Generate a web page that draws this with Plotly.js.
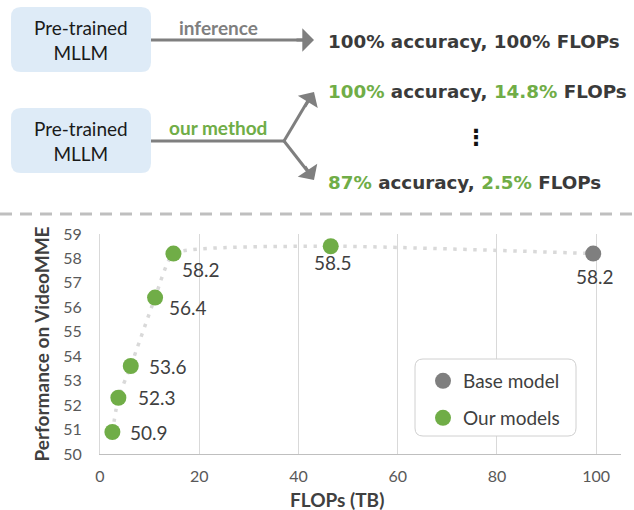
<!DOCTYPE html>
<html>
<head>
<meta charset="utf-8">
<script src="https://cdn.plot.ly/plotly-3.0.1.min.js"></script>
<style>html,body{margin:0;padding:0;background:#fff;}#chart{width:634px;height:510px;}</style>
</head>
<body>
<div id="chart"></div>
<script>
// ---- data ----
const flopsOurs = [2.5, 3.7, 6.2, 11.1, 14.8, 46.5];
const scoreOurs = [50.9, 52.3, 53.6, 56.4, 58.2, 58.5];
const flopsBase = [99.4];
const scoreBase = [58.2];
const seriesNames = ['Base model', 'Our models'];
const xTickVals = [0, 20, 40, 60, 80, 100];
const yTickVals = [50, 51, 52, 53, 54, 55, 56, 57, 58, 59];
const boxLabel = 'Pre-trained<br>MLLM';
const arrowLabels = ['inference', 'our method'];
const resultLines = [
  '100% accuracy, 100% FLOPs',
  '<span style="color:#70ad47">100%</span> accuracy, <span style="color:#70ad47">14.8%</span> FLOPs',
  '⋮',
  '<span style="color:#70ad47">87%</span> accuracy, <span style="color:#70ad47">2.5%</span> FLOPs'
];

// ---- styles / geometry ----
const GREEN = '#70ad47', GREYM = '#7f7f7f', TXT = '#404040', ARROW = '#7f7f7f';
const W = 634, H = 510, L = 100, R = 13, T = 234, B = 56;
const PW = W - L - R, PH = H - T - B;
const px = x => (x - L) / PW;
const py = y => (H - B - y) / PH;

// label offsets (pixels) for data labels
const oursLabelOffsets = [[16, 0, 'left'], [18, 0, 'left'], [16, 0, 'left'], [12, -10, 'left'], [7, -16, 'left'], [2, -16, 'center']];
const baseLabelOffsets = [[2, -23, 'center']];

function rrect(x0, y0, x1, y1, r) {
  const P = (x, y) => px(x) + ',' + py(y);
  return 'M' + P(x0 + r, y0) + ' L' + P(x1 - r, y0) + ' Q' + P(x1, y0) + ' ' + P(x1, y0 + r) +
    ' L' + P(x1, y1 - r) + ' Q' + P(x1, y1) + ' ' + P(x1 - r, y1) +
    ' L' + P(x0 + r, y1) + ' Q' + P(x0, y1) + ' ' + P(x0, y1 - r) +
    ' L' + P(x0, y0 + r) + ' Q' + P(x0, y0) + ' ' + P(x0 + r, y0) + ' Z';
}

const shapes = [
  // boxes
  {type: 'path', xref: 'paper', yref: 'paper', path: rrect(11, 7, 151, 72, 10), fillcolor: '#deebf7', line: {width: 0}, layer: 'above'},
  {type: 'path', xref: 'paper', yref: 'paper', path: rrect(11, 108, 151, 173, 10), fillcolor: '#deebf7', line: {width: 0}, layer: 'above'},
  // arrow shafts
  {type: 'line', xref: 'paper', yref: 'paper', x0: px(151), y0: py(40), x1: px(305), y1: py(40), line: {color: ARROW, width: 3}},
  {type: 'line', xref: 'paper', yref: 'paper', x0: px(151), y0: py(141), x1: px(285), y1: py(141), line: {color: ARROW, width: 3}},
  {type: 'line', xref: 'paper', yref: 'paper', x0: px(284), y0: py(141), x1: px(309), y1: py(99), line: {color: ARROW, width: 3}},
  {type: 'line', xref: 'paper', yref: 'paper', x0: px(284), y0: py(141), x1: px(309), y1: py(173), line: {color: ARROW, width: 3}},
  // separator
  {type: 'line', xref: 'paper', yref: 'paper', x0: px(0), y0: py(214), x1: px(634), y1: py(214), line: {color: '#bfbfbf', width: 3, dash: '12px,8px'}},
  // legend box
  {type: 'path', xref: 'paper', yref: 'paper', path: rrect(415, 359, 576, 436, 8), fillcolor: '#ffffff', line: {color: '#d0d0d0', width: 1}, layer: 'above'}
];

function arrowHead(hx, hy, tx, ty) {
  return {xref: 'paper', yref: 'paper', x: px(hx), y: py(hy), ax: tx - hx, ay: ty - hy, axref: 'pixel', ayref: 'pixel',
    text: '', showarrow: true, arrowhead: 1, arrowsize: 1.3, arrowwidth: 3, arrowcolor: ARROW, standoff: 0, startstandoff: 0};
}

const annotations = [
  {xref: 'paper', yref: 'paper', x: px(81), y: py(40), text: boxLabel, showarrow: false, font: {family: 'Lato', size: 19, color: '#1a1a1a'}, xanchor: 'center', yanchor: 'middle'},
  {xref: 'paper', yref: 'paper', x: px(81), y: py(141), text: boxLabel, showarrow: false, font: {family: 'Lato', size: 19, color: '#1a1a1a'}, xanchor: 'center', yanchor: 'middle'},
  {xref: 'paper', yref: 'paper', x: px(218), y: py(27), text: '<b>' + arrowLabels[0] + '</b>', showarrow: false, font: {family: 'Lato', size: 19, color: ARROW}, xanchor: 'center', yanchor: 'middle'},
  {xref: 'paper', yref: 'paper', x: px(218), y: py(127), text: '<b>' + arrowLabels[1] + '</b>', showarrow: false, font: {family: 'Lato', size: 19, color: GREEN}, xanchor: 'center', yanchor: 'middle'},
  arrowHead(314, 40, 295, 40),
  arrowHead(314, 92, 304, 108),
  arrowHead(314, 180, 304, 165),
  {xref: 'paper', yref: 'paper', x: px(326), y: py(41), text: '<b>' + resultLines[0] + '</b>', showarrow: false, font: {family: 'DejaVu Sans', size: 18.3, color: '#3a3a3a'}, xanchor: 'left', yanchor: 'middle'},
  {xref: 'paper', yref: 'paper', x: px(326), y: py(91), text: '<b>' + resultLines[1] + '</b>', showarrow: false, font: {family: 'DejaVu Sans', size: 18.3, color: '#3a3a3a'}, xanchor: 'left', yanchor: 'middle'},
  {xref: 'paper', yref: 'paper', x: px(476), y: py(137), text: '<b>' + resultLines[2] + '</b>', showarrow: false, font: {family: 'DejaVu Sans', size: 22, color: '#111'}, xanchor: 'center', yanchor: 'middle'},
  {xref: 'paper', yref: 'paper', x: px(326), y: py(183), text: '<b>' + resultLines[3] + '</b>', showarrow: false, font: {family: 'DejaVu Sans', size: 18.3, color: '#3a3a3a'}, xanchor: 'left', yanchor: 'middle'},
  // x axis title
  {xref: 'paper', yref: 'paper', x: px(337), y: py(499), text: '<b>FLOPs (TB)</b>', showarrow: false, font: {family: 'Lato', size: 19, color: TXT}, xanchor: 'center', yanchor: 'middle'}
];

// data labels
flopsOurs.forEach((x, i) => {
  const o = oursLabelOffsets[i];
  annotations.push({x: x, y: scoreOurs[i], xref: 'x', yref: 'y', text: String(scoreOurs[i].toFixed(1)), showarrow: false,
    xshift: o[0], yshift: o[1], xanchor: o[2], yanchor: 'middle', font: {family: 'Lato', size: 19, color: TXT}});
});
flopsBase.forEach((x, i) => {
  const o = baseLabelOffsets[i];
  annotations.push({x: x, y: scoreBase[i], xref: 'x', yref: 'y', text: String(scoreBase[i].toFixed(1)), showarrow: false,
    xshift: o[0], yshift: o[1], xanchor: o[2], yanchor: 'middle', font: {family: 'Lato', size: 19, color: TXT}});
});

const lineX = flopsOurs.concat(flopsBase);
const lineY = scoreOurs.concat(scoreBase);

const traces = [
  {x: lineX, y: lineY, mode: 'lines', line: {color: '#d9d9d9', width: 3.5, dash: '3.5px,6.5px', shape: 'spline', smoothing: 0.45}, showlegend: false, hoverinfo: 'skip'},
  {x: flopsBase, y: scoreBase, mode: 'markers', name: seriesNames[0], marker: {color: GREYM, size: 16}, legend: 'legend'},
  {x: flopsOurs, y: scoreOurs, mode: 'markers', name: seriesNames[1], marker: {color: GREEN, size: 16}, legend: 'legend2'}
];

const legendCommon = {bgcolor: 'rgba(0,0,0,0)', borderwidth: 0, font: {family: 'Lato', size: 19, color: TXT}, xanchor: 'left', yanchor: 'middle', itemclick: false};

const layout = {
  width: W, height: H,
  margin: {l: L, r: R, t: T, b: B},
  paper_bgcolor: '#ffffff', plot_bgcolor: '#ffffff',
  font: {family: 'Lato', color: TXT},
  showlegend: true,
  legend: Object.assign({}, legendCommon, {x: px(423), y: py(381)}),
  legend2: Object.assign({}, legendCommon, {x: px(423), y: py(418)}),
  xaxis: {range: [0, 105], tickvals: xTickVals, showgrid: true, gridcolor: '#d9d9d9', gridwidth: 1,
    zeroline: false, showline: true, linecolor: '#bfbfbf', linewidth: 1,
    ticks: 'outside', ticklen: 8, tickcolor: 'rgba(0,0,0,0)', tickfont: {family: 'Lato', size: 16, color: '#595959'}},
  yaxis: {range: [50, 59], tickvals: yTickVals, showgrid: false, zeroline: false, showline: true, linecolor: '#d9d9d9', linewidth: 1,
    ticks: 'outside', ticklen: 14, tickcolor: 'rgba(0,0,0,0)', tickfont: {family: 'Lato', size: 16, color: '#595959'},
    title: {text: '<b>Performance on VideoMME</b>', font: {family: 'Lato', size: 19, color: TXT}, standoff: 8}},
  shapes: shapes,
  annotations: annotations
};

Plotly.newPlot('chart', traces, layout, {displayModeBar: false, staticPlot: true});
</script>
</body>
</html>
